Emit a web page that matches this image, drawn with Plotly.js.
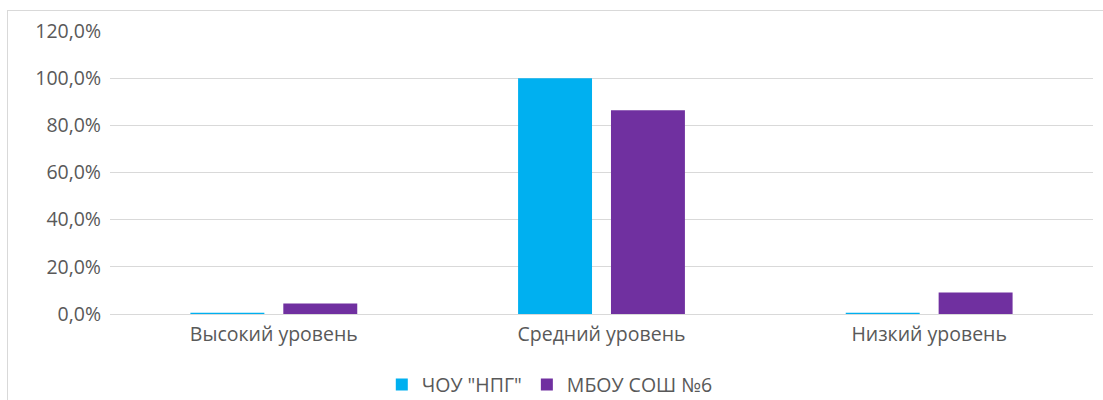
<!DOCTYPE html>
<html>
<head>
<meta charset="utf-8">
<script src="https://cdn.plot.ly/plotly-3.0.1.min.js"></script>
<style>
html,body{margin:0;padding:0;width:1103px;height:400px;overflow:hidden;background:#fff;}
#chart{position:absolute;left:0;top:0;width:1103px;height:400px;}
#frame{position:absolute;left:7px;top:10px;width:1110px;height:400px;border:1px solid #d9d9d9;pointer-events:none;}
</style>
</head>
<body>
<div id="chart"></div>
<div id="frame"></div>
<script>
const categories = ["Высокий уровень", "Средний уровень", "Низкий уровень"];
const seriesNames = ["ЧОУ \"НПГ\"", "МБОУ СОШ №6"];
const chouValues = [0.5, 100, 0.5];
const mbouValues = [4.5, 86.4, 9.1];
const tickValues = [0, 20, 40, 60, 80, 100, 120];
const tickLabels = ["0,0%", "20,0%", "40,0%", "60,0%", "80,0%", "100,0%", "120,0%"];

const font = "Open Sans, Noto Sans, sans-serif";
const textColor = "#595959";
const fs = 19.5;

const traces = [
  {type: "bar", name: seriesNames[0], x: categories, y: chouValues,
   marker: {color: "#00b0f0"}, hoverinfo: "none"},
  {type: "bar", name: seriesNames[1], x: categories, y: mbouValues,
   marker: {color: "#7030a0"}, hoverinfo: "none"}
];

const layout = {
  width: 1103, height: 400,
  margin: {l: 110, r: 9.5, t: 31, b: 86, pad: 0, autoexpand: false},
  paper_bgcolor: "rgba(0,0,0,0)", plot_bgcolor: "#fff",
  barmode: "group", bargap: 0.433, bargroupgap: 0.204,
  font: {family: font, color: textColor, size: fs},
  showlegend: true,
  legend: {orientation: "h", x: 0.4474, xanchor: "center", y: -0.25, yanchor: "middle",
           font: {family: font, size: fs, color: textColor}, itemwidth: 30, traceorder: "normal"},
  xaxis: {type: "category", showgrid: false, zeroline: false, showline: false,
          ticks: "", ticklabelstandoff: 6,
          tickfont: {family: font, size: fs, color: textColor}, automargin: false},
  yaxis: {range: [0, 120], tickmode: "array", tickvals: tickValues, ticktext: tickLabels,
          showgrid: true, gridcolor: "#d9d9d9", gridwidth: 1, zeroline: true,
          zerolinecolor: "#d9d9d9", zerolinewidth: 1, showline: false, ticks: "",
          ticklabelstandoff: 8,
          tickfont: {family: font, size: fs, color: textColor}, automargin: false, fixedrange: true}
};

Plotly.newPlot("chart", traces, layout, {displayModeBar: false, staticPlot: true});
</script>
</body>
</html>
